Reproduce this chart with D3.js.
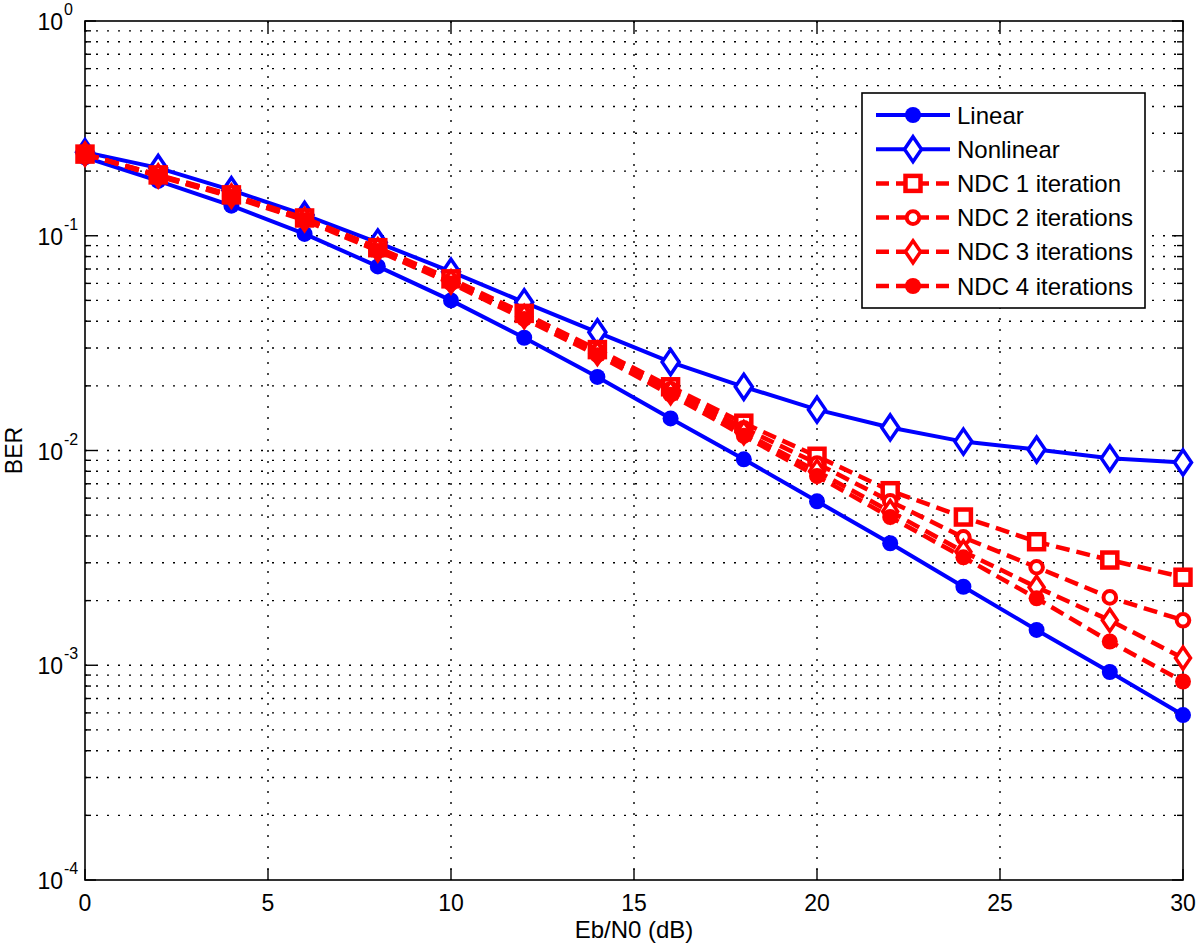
<!DOCTYPE html>
<html>
<head>
<meta charset="utf-8">
<script src="https://cdn.jsdelivr.net/npm/d3@7"></script>
<style>
  html, body { margin: 0; padding: 0; background: #fff; }
  svg { display: block; font-family: 'Liberation Sans', Arial, sans-serif; }
</style>
</head>
<body>
<div id="chart"></div>
<script>
// data
const ebn0 = [0, 2, 4, 6, 8, 10, 12, 14, 16, 18, 20, 22, 24, 26, 28, 30];
const berLinear    = [0.232, 0.180, 0.138, 0.102, 0.072, 0.050, 0.0335, 0.022, 0.0141, 0.0091, 0.0058, 0.0037, 0.00232, 0.00146, 0.00093, 0.000586];
const berNonlinear = [0.245, 0.207, 0.163, 0.125, 0.093, 0.068, 0.049, 0.0355, 0.0258, 0.0198, 0.0155, 0.0128, 0.0110, 0.0101, 0.0092, 0.0088];
const berNdc1 = [0.240, 0.192, 0.155, 0.121, 0.088, 0.063, 0.0435, 0.0295, 0.0198, 0.0134, 0.0094, 0.0065, 0.0049, 0.00376, 0.00309, 0.00257];
const berNdc2 = [0.240, 0.191, 0.154, 0.120, 0.087, 0.062, 0.043, 0.029, 0.0193, 0.0127, 0.0087, 0.0058, 0.00394, 0.00286, 0.00207, 0.00162];
const berNdc3 = [0.240, 0.190, 0.153, 0.119, 0.086, 0.061, 0.042, 0.0283, 0.0186, 0.0121, 0.0080, 0.0052, 0.00338, 0.00231, 0.00162, 0.00108];
const berNdc4 = [0.240, 0.189, 0.152, 0.118, 0.085, 0.060, 0.041, 0.0278, 0.0182, 0.0117, 0.0076, 0.0049, 0.00318, 0.00205, 0.00129, 0.00084];
const seriesNames = ["Linear", "Nonlinear", "NDC 1 iteration", "NDC 2 iterations", "NDC 3 iterations", "NDC 4 iterations"];
const xTicks = [0, 5, 10, 15, 20, 25, 30];
const yExponents = [0, -1, -2, -3, -4];

const width = 1200, height = 947;
const margin = { top: 21, right: 17, bottom: 67, left: 85 };
const innerW = width - margin.left - margin.right;
const innerH = height - margin.top - margin.bottom;

const BLUE = "#0000ff", RED = "#ff0000";
const DASH = "14,7";

const series = [
  { name: seriesNames[0], values: berLinear,    color: BLUE, dash: null, marker: "dot" },
  { name: seriesNames[1], values: berNonlinear, color: BLUE, dash: null, marker: "bigdiamond" },
  { name: seriesNames[2], values: berNdc1,      color: RED,  dash: DASH, marker: "square" },
  { name: seriesNames[3], values: berNdc2,      color: RED,  dash: DASH, marker: "circle" },
  { name: seriesNames[4], values: berNdc3,      color: RED,  dash: DASH, marker: "diamond" },
  { name: seriesNames[5], values: berNdc4,      color: RED,  dash: DASH, marker: "dot" }
];

const svg = d3.select("#chart").append("svg")
  .attr("width", width)
  .attr("height", height);

const x = d3.scaleLinear().domain([0, 30]).range([margin.left, margin.left + innerW]);
const y = d3.scaleLog().domain([1e-4, 1]).range([margin.top + innerH, margin.top]);

// grid
const minorVals = [];
for (let e = -4; e < 0; e++) {
  for (let m = 2; m <= 9; m++) minorVals.push(m * Math.pow(10, e));
}
const majorVals = yExponents.map(e => Math.pow(10, e));

const grid = svg.append("g").attr("stroke", "#000").attr("stroke-width", 1.4)
  .attr("stroke-dasharray", "2,9");
grid.selectAll("line.hy")
  .data(minorVals.concat(majorVals.slice(1, -1)))
  .enter().append("line")
  .attr("x1", x(0)).attr("x2", x(30))
  .attr("y1", d => y(d)).attr("y2", d => y(d));
grid.selectAll("line.vx")
  .data(xTicks.slice(1, -1))
  .enter().append("line")
  .attr("x1", d => x(d)).attr("x2", d => x(d))
  .attr("y1", y(1)).attr("y2", y(1e-4));

// ticks (inward on all sides, like matlab)
const tickG = svg.append("g").attr("stroke", "#000").attr("stroke-width", 1.4);
minorVals.forEach(v => {
  tickG.append("line").attr("x1", x(0)).attr("x2", x(0) + 6).attr("y1", y(v)).attr("y2", y(v));
  tickG.append("line").attr("x1", x(30)).attr("x2", x(30) - 6).attr("y1", y(v)).attr("y2", y(v));
});
majorVals.forEach(v => {
  tickG.append("line").attr("x1", x(0)).attr("x2", x(0) + 11).attr("y1", y(v)).attr("y2", y(v));
  tickG.append("line").attr("x1", x(30)).attr("x2", x(30) - 11).attr("y1", y(v)).attr("y2", y(v));
});
xTicks.forEach(t => {
  tickG.append("line").attr("x1", x(t)).attr("x2", x(t)).attr("y1", y(1e-4)).attr("y2", y(1e-4) - 11);
  tickG.append("line").attr("x1", x(t)).attr("x2", x(t)).attr("y1", y(1)).attr("y2", y(1) + 11);
});

// axis box
svg.append("rect")
  .attr("x", x(0)).attr("y", y(1))
  .attr("width", x(30) - x(0)).attr("height", y(1e-4) - y(1))
  .attr("fill", "none").attr("stroke", "#000").attr("stroke-width", 1.6);

// tick labels
svg.append("g").selectAll("text")
  .data(xTicks)
  .enter().append("text")
  .attr("x", d => x(d))
  .attr("y", y(1e-4) + 31)
  .attr("text-anchor", "middle")
  .attr("font-size", 23)
  .text(d => d);

const yl = svg.append("g").selectAll("g")
  .data(yExponents)
  .enter().append("g")
  .attr("transform", e => `translate(0,${y(Math.pow(10, e))})`);
yl.append("text")
  .attr("x", 63).attr("y", 9)
  .attr("text-anchor", "end")
  .attr("font-size", 23)
  .text("10");
yl.append("text")
  .attr("x", 64).attr("y", -6)
  .attr("font-size", 16)
  .text(e => e);

// axis titles
svg.append("text")
  .attr("x", x(15)).attr("y", 938)
  .attr("text-anchor", "middle")
  .attr("font-size", 24)
  .text("Eb/N0 (dB)");
svg.append("text")
  .attr("transform", `translate(22,${y(1e-2)}) rotate(-90)`)
  .attr("text-anchor", "middle")
  .attr("font-size", 23)
  .text("BER");

// markers
function drawMarker(g, type, color, cx, cy) {
  if (type === "dot") {
    g.append("circle").attr("cx", cx).attr("cy", cy).attr("r", 8).attr("fill", color);
  } else if (type === "circle") {
    g.append("circle").attr("cx", cx).attr("cy", cy).attr("r", 6.3)
      .attr("fill", "#fff").attr("stroke", color).attr("stroke-width", 4);
  } else if (type === "square") {
    g.append("rect").attr("x", cx - 7.5).attr("y", cy - 7.5).attr("width", 15).attr("height", 15)
      .attr("fill", "#fff").attr("stroke", color).attr("stroke-width", 4.5);
  } else if (type === "diamond" || type === "bigdiamond") {
    const hw = type === "bigdiamond" ? 8.5 : 7.5;
    const hh = type === "bigdiamond" ? 12.5 : 11;
    g.append("path")
      .attr("d", `M${cx},${cy - hh}L${cx + hw},${cy}L${cx},${cy + hh}L${cx - hw},${cy}Z`)
      .attr("fill", "#fff").attr("stroke", color).attr("stroke-width", 3.5);
  }
}

const line = d3.line()
  .x(d => x(d[0]))
  .y(d => y(d[1]));

const plot = svg.append("g");
series.forEach(s => {
  const pts = ebn0.map((e, i) => [e, s.values[i]]);
  const g = plot.append("g");
  g.append("path")
    .datum(pts)
    .attr("d", line)
    .attr("fill", "none")
    .attr("stroke", s.color)
    .attr("stroke-width", s.dash ? 4.5 : 4)
    .attr("stroke-dasharray", s.dash);
  pts.forEach(p => drawMarker(g, s.marker, s.color, x(p[0]), y(p[1])));
});

// legend
const lg = svg.append("g");
lg.append("rect")
  .attr("x", 862).attr("y", 93).attr("width", 283).attr("height", 215)
  .attr("fill", "#fff").attr("stroke", "#000").attr("stroke-width", 1.6);
series.forEach((s, i) => {
  const ry = 115 + i * 34.2;
  const row = lg.append("g");
  row.append("line")
    .attr("x1", 876).attr("x2", 950).attr("y1", ry).attr("y2", ry)
    .attr("stroke", s.color).attr("stroke-width", s.dash ? 4.5 : 4)
    .attr("stroke-dasharray", s.dash ? "13,7" : null);
  drawMarker(row, s.marker, s.color, 913, ry);
  row.append("text")
    .attr("x", 957).attr("y", ry + 8.5)
    .attr("font-size", 24)
    .text(s.name);
});
</script>
</body>
</html>
